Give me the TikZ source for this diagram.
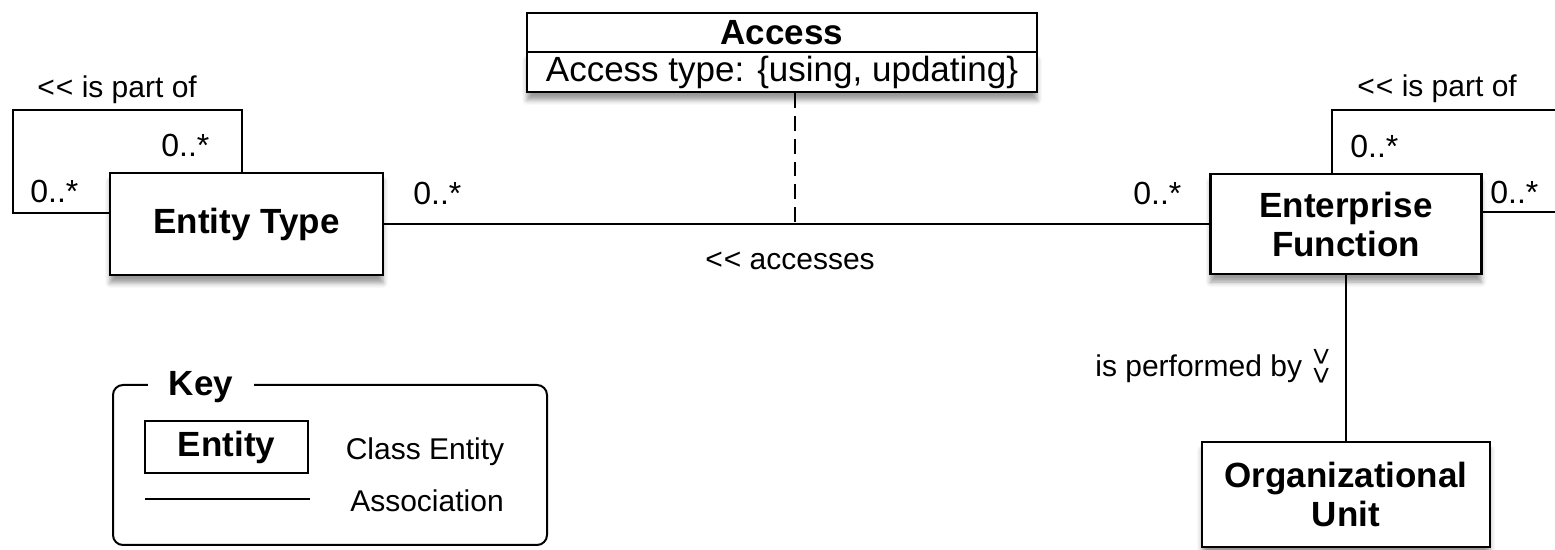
\documentclass[tikz,border=0pt]{standalone}
\usepackage{fontspec}
\setmainfont{Liberation Sans}
\usetikzlibrary{shadows.blur}

\newcommand{\dblless}{{<}\kern0.5pt{<}}

\tikzset{
  boxshadow/.style={blur shadow={shadow xshift=0pt, shadow yshift=-4pt,
      shadow blur radius=2.5pt, shadow opacity=40}},
  cls/.style={draw, line width=1.3pt, fill=white, inner sep=0pt, align=center,
      font=\fontsize{17.5}{19.5}\selectfont\bfseries},
  attr/.style={draw, line width=1.3pt, fill=white, inner sep=0pt,
      font=\fontsize{17.5}{19.5}\selectfont},
  lbl/.style={inner sep=0pt, font=\fontsize{15}{17}\selectfont},
  mult/.style={inner sep=0pt, font=\fontsize{16}{18}\selectfont},
  assoc/.style={line width=1pt},
}

\begin{document}
\begin{tikzpicture}[x=0.5pt,y=-0.5pt]
\useasboundingbox (0,0) rectangle (1555,550);

% association class
\node[cls, minimum width=255pt, minimum height=19.5pt] (accname) at (782,32.5) {Access};
\node[attr, boxshadow, minimum width=255pt, minimum height=20pt] (accattr) at (782,72) {Access type: \{using, updating\}};

% classes
\node[cls, boxshadow, minimum width=136.5pt, minimum height=51pt] (et) at (246.5,224) {Entity Type};
\node[cls, boxshadow, minimum width=135.5pt, minimum height=50pt] (ef) at (1346,224) {Enterprise\\Function};
\node[cls, boxshadow, minimum width=144pt, minimum height=52.5pt] (ou) at (1346,494.5) {Organizational\\Unit};

% self association of Entity Type
\coordinate (lpA) at (13,110);
\draw[assoc] ([yshift=5.5pt]et.west) -| (lpA) -| ([xshift=-2.25pt]et.north);
\node[lbl, anchor=base west] (lpL) at (37,98) {\dblless\ is part of};
\node[mult, anchor=base west] (lpM1) at (161,157) {0..*};
\node[mult, anchor=base west] (lpM2) at (30,203) {0..*};

% self association of Enterprise Function
\coordinate (rpA) at (1575,110);
\coordinate (rpB) at (1575,212);
\draw[assoc] ([xshift=-7pt]ef.north) |- (rpA) -- (rpB) -- ([yshift=6pt]ef.east);
\node[lbl, anchor=base west] (rpL) at (1357,97) {\dblless\ is part of};
\node[mult, anchor=base west] (rpM1) at (1350,158) {0..*};
\node[mult, anchor=base west] (rpM2) at (1490,204) {0..*};

% accesses
\draw[assoc] (et.east) -- (ef.west);
\coordinate (mid) at (795,224);
\draw[assoc, dash pattern=on 7.4pt off 4pt] (mid |- accattr.south) -- (mid);
\node[mult, anchor=base west] (acM1) at (413,205) {0..*};
\node[mult, anchor=base west] (acM2) at (1133,205) {0..*};
\node[lbl, anchor=base] (acL) at (790,270) {\dblless\ accesses};

% is performed by
\draw[assoc] (ef.south) -- (ou.north);
\node[lbl, anchor=base west] (pfL) at (1095,377) {is performed by};
\node[lbl, rotate=90] (pfA) at (1323,366) {\dblless};

% key
\node[draw, line width=1pt, rounded corners=5pt, minimum width=217pt, minimum height=80pt] (key) at (330,465) {};
\node[fill=white, inner xsep=10.25pt, inner ysep=2pt, anchor=base,
      font=\fontsize{17.5}{19.5}\selectfont\bfseries] (keyT) at (201,396) {Key};
\node[cls, line width=1.1pt, minimum width=81.5pt, minimum height=26pt] (keyE) at (226.5,447) {Entity};
\node[lbl, anchor=base] (keyEL) at (425,460) {Class Entity};
\coordinate (kaA) at (145,499);
\coordinate (kaB) at (310,499);
\draw[assoc] (kaA) -- (kaB);
\node[lbl, anchor=base] (keyAL) at (427,512) {Association};
\end{tikzpicture}
\end{document}
